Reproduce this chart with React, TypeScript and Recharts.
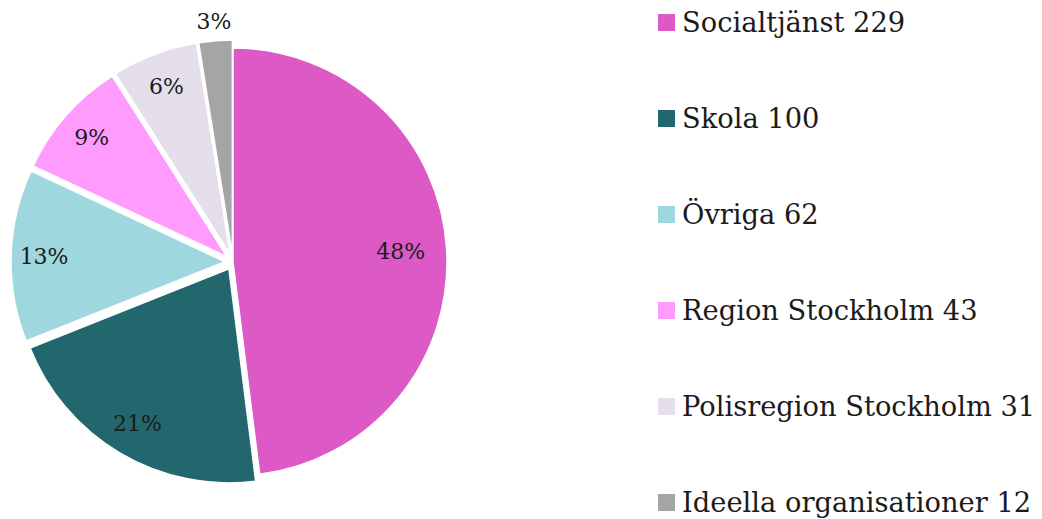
import React from 'react';
import { PieChart, Pie, Sector, Legend } from 'recharts';

const categories = [
  'Socialtjänst',
  'Skola',
  'Övriga',
  'Region Stockholm',
  'Polisregion Stockholm',
  'Ideella organisationer',
];
const counts = [229, 100, 62, 43, 31, 12];

const COLORS = ['#DD59C6', '#22676E', '#9ED8DE', '#FF9BFC', '#E5DFEC', '#A5A5A5'];
// how far each slice is pulled out, and where its % label sits
const EXPLODE = [0, 8, 8, 8, 8, 8];
const LABEL_R = [168, 180, 181, 180, 180, 233];

const FONT = '"DejaVu Serif", Georgia, serif';

const data = categories.map((name, i) => ({ name, value: counts[i] }));

const renderSlice = (props: any) => {
  const { cx, cy, outerRadius, startAngle, endAngle, midAngle, percent, index } = props;
  const rad = (midAngle * Math.PI) / 180;
  const ox = cx + EXPLODE[index] * Math.cos(rad);
  const oy = cy - EXPLODE[index] * Math.sin(rad);
  const lx = ox + LABEL_R[index] * Math.cos(rad);
  const ly = oy - LABEL_R[index] * Math.sin(rad);
  return (
    <g key={`slice-${index}`}>
      <Sector
        cx={ox}
        cy={oy}
        innerRadius={0}
        outerRadius={outerRadius}
        startAngle={startAngle}
        endAngle={endAngle}
        fill={COLORS[index]}
        stroke="#fff"
        strokeWidth={1.5}
      />
      <text
        x={lx}
        y={ly}
        textAnchor="middle"
        dominantBaseline="central"
        fill="#1b1b1b"
        fontSize={22}
        fontFamily={FONT}
      >
        {`${Math.round(percent * 100)}%`}
      </text>
    </g>
  );
};

const renderLegend = () => (
  <div style={{ fontFamily: FONT, fontSize: 27.3, color: '#1b1b1b' }}>
    {categories.map((name, i) => (
      <div
        key={name}
        style={{ display: 'flex', alignItems: 'center', height: 44, marginBottom: 52, whiteSpace: 'nowrap' }}
      >
        <span style={{ width: 17, height: 17, background: COLORS[i], marginRight: 7, flexShrink: 0 }} />
        <span>{`${name} ${counts[i]}`}</span>
      </div>
    ))}
  </div>
);

const App: React.FC = () => {
  return (
    <div style={{ position: 'absolute', left: 0, top: 0, width: 1042, height: 519, background: '#fff' }}>
      <PieChart width={1042} height={519} margin={{ top: 0, right: 0, bottom: 0, left: 0 }}>
        <Pie
          data={data}
          dataKey="value"
          nameKey="name"
          cx={233}
          cy={262}
          innerRadius={0}
          outerRadius={214}
          startAngle={90}
          endAngle={-270}
          fill="transparent"
          stroke="none"
          label={renderSlice}
          labelLine={false}
          isAnimationActive={false}
        />
        <Legend
          layout="vertical"
          align="center"
          verticalAlign="middle"
          content={renderLegend}
          wrapperStyle={{ left: 658, top: 0, width: 384 }}
        />
      </PieChart>
    </div>
  );
};

export default App;
